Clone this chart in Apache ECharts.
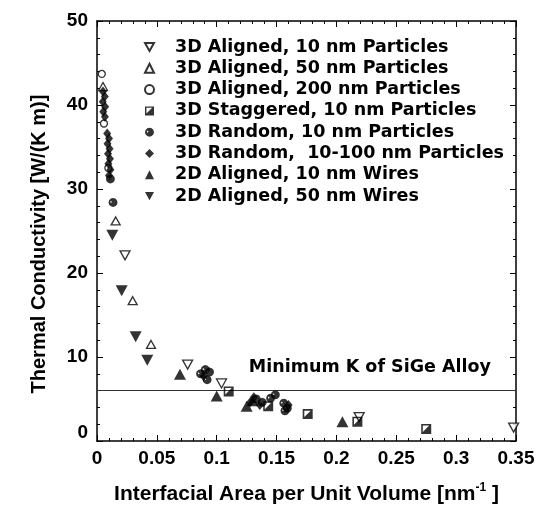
<!DOCTYPE html>
<html>
<head>
<meta charset="utf-8">
<script src="https://cdn.jsdelivr.net/npm/echarts@6/dist/echarts.min.js"></script>
<style>
  html, body { margin: 0; padding: 0; background: #fff; }
  #chart { width: 541px; height: 505px; }
</style>
</head>
<body>
<div id="chart"></div>
<script>
// Each point: [interfacial area per unit volume (nm^-1), thermal conductivity (W/(K m))]
const aligned10nm = [[0.0234, 22.1], [0.0757, 9.1], [0.104, 6.85], [0.219, 2.85], [0.348, 1.6]];
const aligned50nm = [[0.0050, 42.2], [0.0156, 26.2], [0.0298, 16.7], [0.0451, 11.5]];
const aligned200nm = [[0.0040, 43.7], [0.0058, 37.8], [0.0095, 32.5]];
const staggered10nm = [[0.110, 5.9], [0.143, 4.15], [0.176, 3.2], [0.2175, 2.3], [0.275, 1.43]];
const random10nm = [
  [0.0134, 28.4], [0.0112, 31.2], [0.0865, 8.0], [0.0905, 8.5], [0.092, 7.3], [0.094, 8.2],
  [0.133, 5.0], [0.138, 4.6], [0.145, 5.1], [0.149, 5.5], [0.156, 4.5], [0.159, 3.9], [0.157, 3.6]
];
const random10to100nm = [
  [0.0050, 41.6], [0.0065, 41.0], [0.0048, 40.4], [0.0068, 39.8], [0.0052, 39.2], [0.0066, 38.6],
  [0.0085, 36.6], [0.0100, 36.0], [0.0088, 35.4], [0.0105, 34.8], [0.0092, 34.2], [0.0108, 33.6],
  [0.0095, 33.0], [0.0112, 32.3], [0.0100, 31.6],
  [0.089, 7.7], [0.128, 4.6], [0.131, 5.2], [0.136, 4.3], [0.160, 4.3]
];
const wires10nm = [[0.0693, 7.96], [0.100, 5.35], [0.125, 4.15], [0.130, 4.8], [0.205, 2.3]];
const wires50nm = [[0.0128, 24.5], [0.0206, 17.9], [0.0323, 12.4], [0.042, 9.6]];

const seriesNames = [
  '3D Aligned, 10 nm Particles',
  '3D Aligned, 50 nm Particles',
  '3D Aligned, 200 nm Particles',
  '3D Staggered, 10 nm Particles',
  '3D Random, 10 nm Particles',
  '3D Random,  10-100 nm Particles',
  '2D Aligned, 10 nm Wires',
  '2D Aligned, 50 nm Wires'
];

// Axis ranges and tick steps
const xRange = [0, 0.35];
const xStep = 0.05;
const yRange = [0, 50];
const yStep = 10;

// Reference line: minimum thermal conductivity of the SiGe alloy
const sigeMinK = 6;
const sigeLabel = 'Minimum K of SiGe Alloy';

const xName = 'Interfacial Area per Unit Volume [nm{sup|-1} ]';
const yName = 'Thermal Conductivity [W/(K m)]';

const font = '"Liberation Sans", Arial, sans-serif';
const wideFont = '"DejaVu Sans", sans-serif';

// Marker shapes
const SYM = {
  downTri: 'path://M0,0L10,0L5,9Z',
  staggered: 'path://M0,0L10,0L10,10L0,10Z M1.6,1.6L1.6,8L8,1.6Z',
  blob: 'path://M10,5L9.33,7.5L7.5,9.33L5,10L2.5,9.33L0.67,7.5L0,5L0.67,2.5L2.5,0.67L5,0L7.5,0.67L9.33,2.5Z M2.2,3.2L2.2,5.6L4.2,4.6Z'
};

const hollow = { color: '#fff', borderColor: '#000', borderWidth: 1.3 };
const solid = { color: '#000', borderWidth: 0 };

function scatter(name, data, symbol, size, style, extra) {
  return Object.assign({
    name, type: 'scatter', data, symbol, symbolSize: size,
    itemStyle: style, emphasis: { disabled: true }, z: 3
  }, extra || {});
}

const chart = echarts.init(document.getElementById('chart'), null, { renderer: 'canvas' });

const tickStyle = { color: '#000', width: 1 };
function frameAxis(extra) {
  return Object.assign({
    type: 'value',
    axisLine: { show: true, onZero: false, lineStyle: { color: '#000', width: 1.5 } },
    axisTick: { show: true, inside: true, length: 6, lineStyle: tickStyle },
    minorTick: { show: true, splitNumber: 5, length: 3, lineStyle: tickStyle },
    splitLine: { show: false },
    minorSplitLine: { show: false }
  }, extra);
}

const labelStyle = { fontFamily: font, fontWeight: 'bold', fontSize: 19, color: '#000' };

chart.setOption({
  animation: false,
  backgroundColor: '#fff',
  grid: { left: 97, right: 25, top: 21, bottom: 64, outerBoundsMode: 'none' },
  legend: {
    orient: 'vertical',
    left: 139,
    top: 33,
    itemWidth: 9,
    itemHeight: 9,
    itemGap: 3.3,
    selectedMode: false,
    data: seriesNames,
    textStyle: {
      fontFamily: wideFont, fontWeight: 'bold', fontSize: 17.5, color: '#000',
      lineHeight: 17, padding: [0, 0, 0, 16]
    }
  },
  xAxis: [
    frameAxis({
      min: xRange[0], max: xRange[1], interval: xStep, position: 'bottom',
      axisLabel: Object.assign({ margin: 8 }, labelStyle),
      name: xName, nameLocation: 'middle', nameGap: 41,
      nameTextStyle: {
        fontFamily: font, fontWeight: 'bold', fontSize: 21, color: '#000',
        rich: { sup: { fontFamily: font, fontWeight: 'bold', fontSize: 12, color: '#000', padding: [0, 0, 13, 0] } }
      }
    }),
    frameAxis({ min: xRange[0], max: xRange[1], interval: xStep, position: 'top', axisLabel: { show: false } })
  ],
  yAxis: [
    frameAxis({
      min: yRange[0], max: yRange[1], interval: yStep, position: 'left',
      axisLabel: Object.assign({
        margin: 9,
        formatter: v => (v === 0 ? '{z|0}' : String(v)),
        rich: { z: Object.assign({ padding: [0, 0, 16, 0] }, labelStyle) }
      }, labelStyle),
      name: yName, nameLocation: 'middle', nameGap: 48,
      nameTextStyle: { fontFamily: font, fontWeight: 'bold', fontSize: 20, color: '#000', padding: [0, 26, 0, 0] }
    }),
    frameAxis({ min: yRange[0], max: yRange[1], interval: yStep, position: 'right', axisLabel: { show: false } })
  ],
  series: [
    scatter(seriesNames[0], aligned10nm, SYM.downTri, [10, 9], hollow, {
      markLine: {
        silent: true,
        symbol: 'none',
        data: [{ yAxis: sigeMinK }],
        lineStyle: { color: '#333', width: 1, type: 'solid' },
        label: {
          show: true, position: 'insideEndTop', formatter: sigeLabel, distance: [25, 14],
          fontFamily: wideFont, fontWeight: 'bold', fontSize: 17.5, color: '#000'
        },
        emphasis: { disabled: true },
        z: 1
      }
    }),
    scatter(seriesNames[1], aligned50nm, 'triangle', [9, 8], hollow),
    scatter(seriesNames[2], aligned200nm, 'circle', 7, hollow),
    scatter(seriesNames[3], staggered10nm, SYM.staggered, 10, solid),
    scatter(seriesNames[4], random10nm, SYM.blob, 9, solid),
    scatter(seriesNames[5], random10to100nm, 'diamond', [8, 10], solid),
    scatter(seriesNames[6], wires10nm, 'triangle', [12, 11], solid),
    scatter(seriesNames[7], wires50nm, SYM.downTri, [12, 11], solid)
  ]
});
</script>
</body>
</html>
